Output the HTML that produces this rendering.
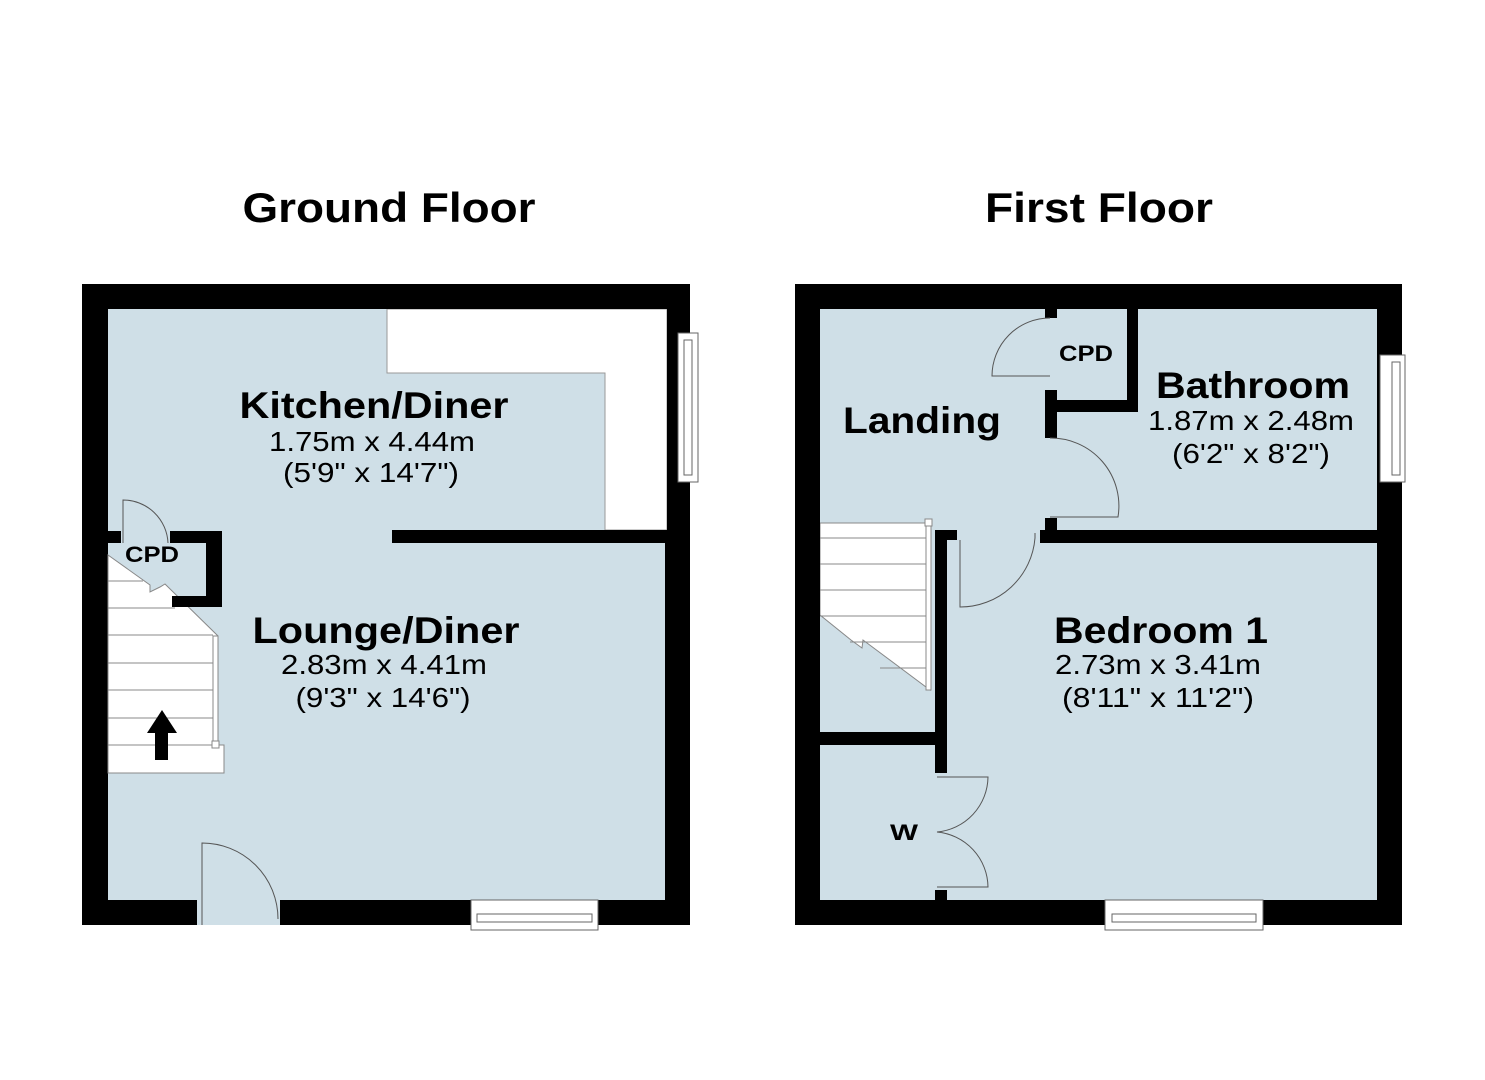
<!DOCTYPE html>
<html><head><style>
body{margin:0;background:#fff;}
svg{display:block}
text{font-family:"Liberation Sans",Arial,sans-serif;fill:#000;text-anchor:middle}
.t{font-size:42px;font-weight:bold}
.r{font-size:37px;font-weight:bold}
.d{font-size:28px}
.s{font-size:22px;font-weight:bold}
</style></head><body>
<svg width="1485" height="1080" viewBox="0 0 1485 1080" xmlns="http://www.w3.org/2000/svg">
<rect width="1485" height="1080" fill="#fff"/>
<text class="t" x="389" y="222" textLength="293" lengthAdjust="spacingAndGlyphs">Ground Floor</text>
<text class="t" x="1099" y="222" textLength="228" lengthAdjust="spacingAndGlyphs">First Floor</text>

<!-- GROUND FLOOR -->
<rect x="82" y="284" width="608" height="641" fill="#cfdfe7"/>
<polygon points="387,309 667,309 667,530 605,530 605,373 387,373" fill="#fff" stroke="#999" stroke-width="1"/>
<rect x="82" y="284" width="608" height="25" fill="#000"/>
<rect x="82" y="284" width="26" height="641" fill="#000"/>
<rect x="667" y="284" width="23" height="260" fill="#000"/>
<rect x="665" y="530" width="25" height="395" fill="#000"/>
<rect x="82" y="900" width="115" height="25" fill="#000"/>
<rect x="280" y="900" width="410" height="25" fill="#000"/>
<rect x="392" y="530" width="275" height="13" fill="#000"/>
<rect x="678" y="333" width="20" height="149" fill="#fff" stroke="#666" stroke-width="1"/>
<rect x="684" y="340" width="8" height="135" fill="#fff" stroke="#666" stroke-width="1"/>
<rect x="471" y="900" width="127" height="30" fill="#fff" stroke="#666" stroke-width="1"/>
<rect x="477" y="914" width="115" height="8" fill="#fff" stroke="#666" stroke-width="1"/>
<rect x="197" y="900" width="83" height="25" fill="#cfdfe7"/>
<path d="M202,925 L202,843 A76,76 0 0 1 278,919" fill="none" stroke="#555" stroke-width="1"/>
<polygon points="108,555 150,585 150,592 160,587 165,584 218,636 218,745 224,745 224,773 108,773" fill="#fff" stroke="#888" stroke-width="1"/>
<g stroke="#888" stroke-width="1">
<line x1="108" y1="581" x2="143" y2="581"/><line x1="108" y1="608" x2="175" y2="608"/>
<line x1="108" y1="635" x2="213" y2="635"/><line x1="108" y1="663" x2="213" y2="663"/>
<line x1="108" y1="690" x2="213" y2="690"/><line x1="108" y1="718" x2="213" y2="718"/>
<line x1="108" y1="745" x2="213" y2="745"/>
<rect x="213" y="636" width="5" height="105" fill="#fff"/>
<rect x="212" y="741" width="7" height="7" fill="#fff"/>
</g>
<polygon points="162,710 177,733 168,733 168,760 155,760 155,733 147,733" fill="#000"/>
<rect x="108" y="531" width="13" height="12" fill="#000"/>
<rect x="170" y="531" width="52" height="12" fill="#000"/>
<rect x="206" y="531" width="16" height="76" fill="#000"/>
<rect x="172" y="596" width="50" height="11" fill="#000"/>
<path d="M123,543 L123,500 A45,45 0 0 1 168,543" fill="none" stroke="#555" stroke-width="1"/>
<text class="s" x="152" y="562" textLength="54" lengthAdjust="spacingAndGlyphs">CPD</text>
<text class="r" x="374" y="418" textLength="269" lengthAdjust="spacingAndGlyphs">Kitchen/Diner</text>
<text class="d" x="372" y="451" textLength="206" lengthAdjust="spacingAndGlyphs">1.75m x 4.44m</text>
<text class="d" x="371" y="482" textLength="176" lengthAdjust="spacingAndGlyphs">(5'9" x 14'7")</text>
<text class="r" x="386" y="643" textLength="267" lengthAdjust="spacingAndGlyphs">Lounge/Diner</text>
<text class="d" x="384" y="674" textLength="206" lengthAdjust="spacingAndGlyphs">2.83m x 4.41m</text>
<text class="d" x="383" y="707" textLength="175" lengthAdjust="spacingAndGlyphs">(9'3" x 14'6")</text>

<!-- FIRST FLOOR -->
<rect x="795" y="284" width="607" height="641" fill="#cfdfe7"/>
<polygon points="820,523 930,523 930,690 863,640 862,648 851,640 820,615" fill="#fff" stroke="#888" stroke-width="1"/>
<g stroke="#888" stroke-width="1">
<line x1="820" y1="538" x2="928" y2="538"/><line x1="820" y1="564" x2="928" y2="564"/>
<line x1="820" y1="590" x2="928" y2="590"/><line x1="820" y1="616" x2="928" y2="616"/>
<line x1="850" y1="642" x2="928" y2="642"/><line x1="880" y1="668" x2="928" y2="668"/>
<rect x="926" y="523" width="5" height="167" fill="#fff"/>
<rect x="925" y="519" width="7" height="7" fill="#fff"/>
</g>
<rect x="795" y="284" width="607" height="25" fill="#000"/>
<rect x="795" y="284" width="25" height="641" fill="#000"/>
<rect x="1377" y="284" width="25" height="641" fill="#000"/>
<rect x="795" y="900" width="607" height="25" fill="#000"/>
<rect x="1045" y="309" width="12" height="9" fill="#000"/>
<rect x="1045" y="390" width="12" height="48" fill="#000"/>
<rect x="1057" y="400" width="81" height="12" fill="#000"/>
<rect x="1127" y="309" width="11" height="103" fill="#000"/>
<rect x="1045" y="518" width="12" height="25" fill="#000"/>
<rect x="1040" y="530" width="337" height="13" fill="#000"/>
<rect x="935" y="530" width="22" height="10" fill="#000"/>
<rect x="935" y="530" width="12" height="243" fill="#000"/>
<rect x="820" y="732" width="127" height="13" fill="#000"/>
<rect x="935" y="732" width="12" height="41" fill="#000"/>
<rect x="935" y="890" width="12" height="12" fill="#000"/>
<rect x="1380" y="355" width="25" height="127" fill="#fff" stroke="#666" stroke-width="1"/>
<rect x="1392" y="362" width="8" height="113" fill="#fff" stroke="#666" stroke-width="1"/>
<rect x="1105" y="900" width="158" height="30" fill="#fff" stroke="#666" stroke-width="1"/>
<rect x="1112" y="914" width="144" height="8" fill="#fff" stroke="#666" stroke-width="1"/>
<g fill="none" stroke="#555" stroke-width="1">
<path d="M1050,318 A58,58 0 0 0 992,376 L1050,376"/>
<path d="M1050,438 A68,68 0 0 1 1118,517 L1050,517"/>
<path d="M1035,533 L1035,538 A75,75 0 0 1 960,607 L960,540"/>
<path d="M937,777 L988,777 A56,56 0 0 1 937,832 A56,56 0 0 1 988,887 L937,887"/>
</g>
<text class="s" x="1086" y="361" textLength="54" lengthAdjust="spacingAndGlyphs">CPD</text>
<text class="r" x="922" y="433" textLength="158" lengthAdjust="spacingAndGlyphs">Landing</text>
<text class="r" x="1253" y="398" textLength="194" lengthAdjust="spacingAndGlyphs">Bathroom</text>
<text class="d" x="1251" y="430" textLength="206" lengthAdjust="spacingAndGlyphs">1.87m x 2.48m</text>
<text class="d" x="1251" y="463" textLength="158" lengthAdjust="spacingAndGlyphs">(6'2" x 8'2")</text>
<text class="r" x="1161" y="643" textLength="214" lengthAdjust="spacingAndGlyphs">Bedroom 1</text>
<text class="d" x="1158" y="674" textLength="206" lengthAdjust="spacingAndGlyphs">2.73m x 3.41m</text>
<text class="d" x="1158" y="707" textLength="192" lengthAdjust="spacingAndGlyphs">(8'11" x 11'2")</text>
<text class="s" x="904" y="840" textLength="28" lengthAdjust="spacingAndGlyphs">W</text>
</svg>
</body></html>
